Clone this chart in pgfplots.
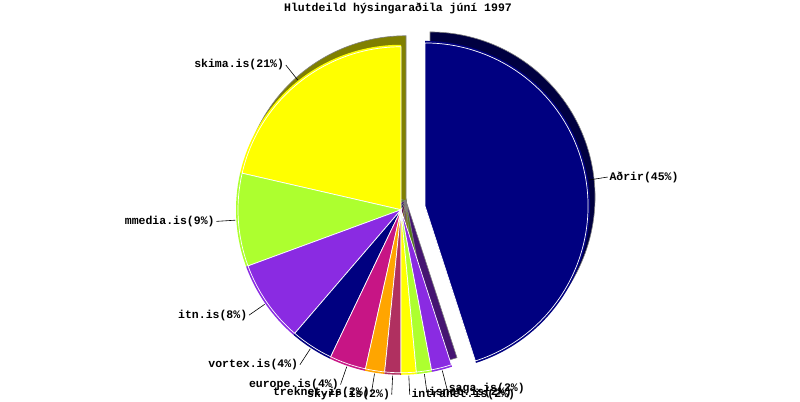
\documentclass[border=0pt]{standalone}
\usepackage{pgfplots}
\pgfplotsset{compat=1.18}
\usepackage{pgfplotstable}
\usepackage{fontspec}
\setmainfont{Liberation Mono}

\definecolor{pnavy}{RGB}{0,0,128}
\definecolor{pyellow}{RGB}{255,255,0}
\definecolor{pgreen}{RGB}{173,255,47}
\definecolor{pviolet}{RGB}{138,43,226}
\definecolor{pred}{RGB}{199,21,133}
\definecolor{porange}{RGB}{255,165,0}
\definecolor{pmaroon}{RGB}{176,48,96}

% share in percent, counter-clockwise from 12 o'clock; ex = explode distance
\pgfplotstableread[col sep=comma]{
name,pct,col,ex
skima.is,21.4,pyellow,0
mmedia.is,9.2,pgreen,0
itn.is,8.1,pviolet,0
vortex.is,4.2,pnavy,0
europe.is,3.6,pred,0
treknet.is,1.9,porange,0
skyrr.is,1.6,pmaroon,0
intranet.is,1.5,pyellow,0
isnet.is,1.5,pgreen,0
saga.is,2.0,pviolet,0
Aðrir,45.0,pnavy,24.3
}\hosts

\newcommand\getslice[1]{%
  \pgfplotstablegetelem{#1}{pct}\of\hosts \let\p\pgfplotsretval
  \pgfplotstablegetelem{#1}{ex}\of\hosts \let\ex\pgfplotsretval
  \pgfplotstablegetelem{#1}{col}\of\hosts \let\col\pgfplotsretval
  \pgfplotstablegetelem{#1}{name}\of\hosts \let\nm\pgfplotsretval
  \pgfmathsetmacro\a{\angA}%
  \pgfmathsetmacro\b{\angA+3.6*\p}%
  \pgfmathsetmacro\m{(\a+\b)/2}%
  \pgfmathsetmacro\cx{401+\ex*cos(\m)}%
  \pgfmathsetmacro\cy{191+\ex*sin(\m)}%
  \pgfmathsetmacro\sx{\cx+5}%
  \pgfmathsetmacro\sy{\cy+9}%
  \pgfmathtruncatemacro\lab{round(\p)}%
  \xdef\angA{\b}%
}

\begin{document}
\begin{tikzpicture}
\begin{axis}[
  x=1pt, y=1pt,
  xmin=0, xmax=800, ymin=0, ymax=400,
  hide axis, clip=false,
]
\pgfplotsextra{
  \path (axis cs:0,0) rectangle (axis cs:800,400);
  \pgfplotstablegetrowsof{\hosts}
  \pgfmathtruncatemacro\nlast{\pgfplotsretval-1}
  % shadows (depth)
  \xdef\angA{90}
  \foreach \i in {0,...,\nlast}{
    \getslice{\i}
    \filldraw[fill=\col!50!black, draw=gray, line width=0.6pt]
      (axis cs:\sx,\sy) -- ++(\a:165pt) arc[start angle=\a, end angle=\b, radius=165pt] -- cycle;
  }
  % slices
  \xdef\angA{90}
  \foreach \i in {0,...,\nlast}{
    \getslice{\i}
    \fill[\col] (axis cs:\cx,\cy) -- ++(\a:165pt) arc[start angle=\a, end angle=\b, radius=165pt] -- cycle;
    \draw[white, line width=0.7pt]
      (axis cs:\cx,\cy) -- ++(\a:163pt) arc[start angle=\a, end angle=\b, radius=163pt] -- cycle;
  }
  % labels
  \xdef\angA{90}
  \foreach \i in {0,...,\nlast}{
    \getslice{\i}
    \pgfmathsetmacro\cm{cos(\m)}
    \ifdim\cm pt<0pt \def\anc{east}\else\def\anc{west}\fi
    \draw[black, line width=0.6pt] (axis cs:\cx,\cy) ++(\m:166pt) -- ++(\m:19pt)
      node[anchor=\anc, inner sep=1.5pt, font=\fontsize{11.5}{12}\selectfont\bfseries] {\nm(\lab\%)};
  }
  \node[font=\fontsize{11.5}{12}\selectfont\bfseries] at (axis cs:398,392) {Hlutdeild hýsingaraðila júní 1997};
}
\end{axis}
\end{tikzpicture}
\end{document}
